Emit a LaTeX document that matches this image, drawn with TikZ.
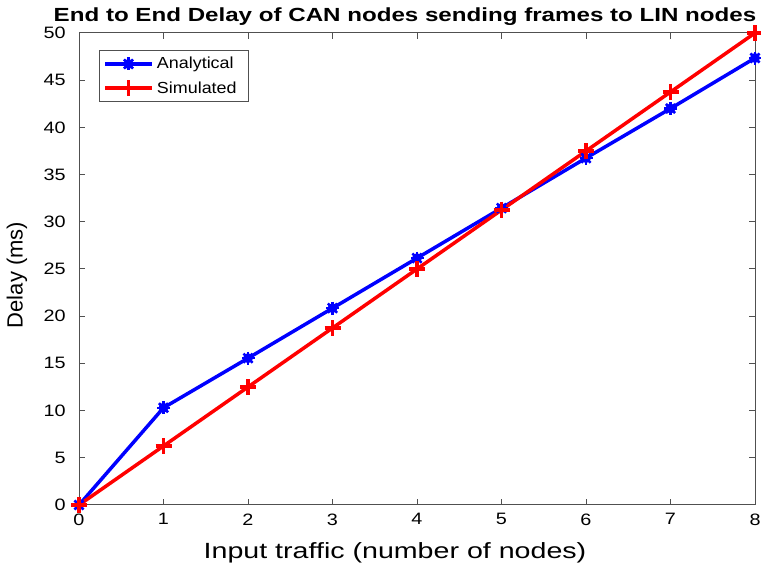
\documentclass[tikz,border=0pt]{standalone}
\usepackage{fontspec}
\setmainfont{Liberation Sans}
\usetikzlibrary{positioning}
\definecolor{axisgray}{RGB}{80,80,80}
\begin{document}
\begin{tikzpicture}[x=1pt,y=1pt,
	ana/.style={blue,line width=3.5pt,line join=round},
	sim/.style={red,line width=3.5pt,line join=round},
	frame/.style={axisgray,line width=1pt},
	tick/.style={font=\fontsize{16.5}{16.5}\selectfont,xscale=1.2},
	legtext/.style={font=\fontsize{16}{16}\selectfont,xscale=1.12,anchor=west}]
\useasboundingbox (0,0) rectangle (761,573);

% plot frame and ticks
\begin{scope}[shift={(79,68)},x=84.5pt,y=9.44pt]
\draw[frame] (0,0) rectangle (8,50);
\foreach \i in {0,...,8} {
	\draw[frame] (\i,0) -- ++(0,6pt);
	\draw[frame] (\i,50) -- ++(0,-6pt);
	\node[tick,below=5pt] (xt\i) at (\i,0) {\i};
}
\foreach \j in {0,5,...,50} {
	\draw[frame] (0,\j) -- ++(6pt,0);
	\draw[frame] (8,\j) -- ++(-6pt,0);
	\node[tick,left=9pt] (yt\j) at (0,\j) {\j};
}

% curves
\draw[ana] (0,0) -- (1,10.3) -- (2,15.55) -- (3,20.85) -- (4,26.15)
	-- (5,31.45) -- (6,36.75) -- (7,42) -- (8,47.35);
\draw[sim] (0,0) -- (1,6.25) -- (2,12.5) -- (3,18.75) -- (4,25)
	-- (5,31.25) -- (6,37.5) -- (7,43.75) -- (8,50);

\foreach \p in {(0,0),(1,10.3),(2,15.55),(3,20.85),(4,26.15),(5,31.45),(6,36.75),(7,42),(8,47.35)} {
	\fill[blue] \p circle (5pt);
	\foreach \a in {0,45,90,135}
		\draw[blue,line width=2.5pt] \p ++(\a:6.5pt) -- ++(\a+180:13pt);
}
\foreach \p in {(0,0),(1,6.25),(2,12.5),(3,18.75),(4,25),(5,31.25),(6,37.5),(7,43.75),(8,50)}
	\draw[red,line width=3.5pt] \p ++(-8pt,0) -- ++(16pt,0) \p ++(0,-8pt) -- ++(0,16pt);
\end{scope}

% legend
\draw[frame,line width=0.8pt,fill=white] (99,472) rectangle (248,523);
\draw[ana] (105,509) -- (152,509);
\fill[blue] (128.5,509) circle (5pt);
\foreach \a in {0,45,90,135}
	\draw[blue,line width=2.5pt] (128.5,509) ++(\a:6.5pt) -- ++(\a+180:13pt);
\draw[sim] (105,485) -- (152,485);
\draw[red,line width=3.5pt] (128.5,477) -- (128.5,493);
\node[legtext] (lana) at (153,509) {Analytical};
\node[legtext] (lsim) at (153,485) {Simulated};

% titles
\node[font=\bfseries\fontsize{19}{19}\selectfont,xscale=1.27] (title) at (405,556) {End to End Delay of CAN nodes sending frames to LIN nodes};
\node[font=\fontsize{22}{22}\selectfont,xscale=1.3] (xlab) at (395,20) {Input traffic (number of nodes)};
\node[font=\fontsize{22}{22}\selectfont,rotate=90] (ylab) at (17,298) {Delay (ms)};
\end{tikzpicture}
\end{document}
